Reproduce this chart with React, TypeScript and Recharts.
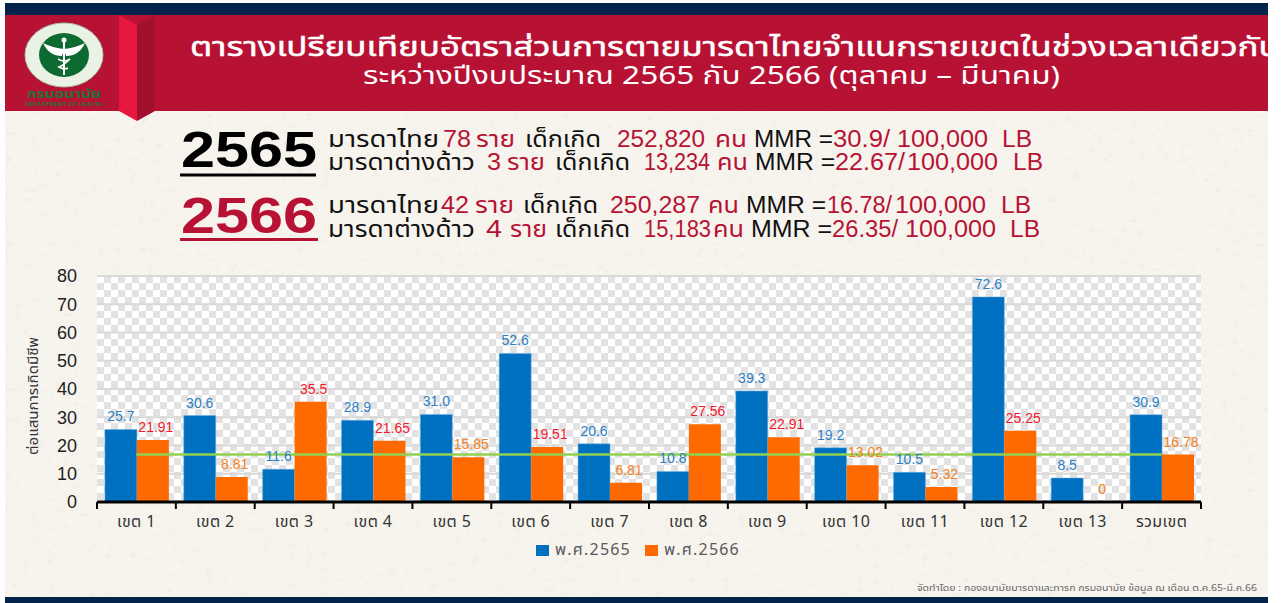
import React from "react";
import { ComposedChart, Bar, Line, XAxis, YAxis, CartesianGrid, LabelList, Legend } from "recharts";

const categories = ["เขต 1","เขต 2","เขต 3","เขต 4","เขต 5","เขต 6","เขต 7","เขต 8","เขต 9","เขต 10","เขต 11","เขต 12","เขต 13","รวมเขต"];
const mmr2565 = [25.7,30.6,11.6,28.9,31.0,52.6,20.6,10.8,39.3,19.2,10.5,72.6,8.5,30.9];
const mmr2566 = [21.91,8.81,35.5,21.65,15.85,19.51,6.81,27.56,22.91,13.02,5.32,25.25,0,16.78];
const avg2566 = [16.78,16.78,16.78,16.78,16.78,16.78,16.78,16.78,16.78,16.78,16.78,16.78,16.78,16.78];
const yTicks = [0,10,20,30,40,50,60,70,80];

const data = categories.map((name, i) => ({ name, a: mmr2565[i], b: mmr2566[i], avg: avg2566[i] }));

const RED = "#b71234";
const NAVY = "#03234a";
const THAI = "'Noto Sans Thai','Noto Sans','Liberation Sans','DejaVu Sans',sans-serif";
const ARIAL = "'Liberation Sans',Arial,'Noto Sans',sans-serif";

type Seg = { t: string; x: number; w: number; c: number };
const lines: { y: number; segs: Seg[] }[] = [
  { y: 147, segs: [
    { t: "มารดาไทย", x: 328, w: 111, c: 0 }, { t: "78", x: 443, w: 28, c: 1 }, { t: "ราย", x: 476, w: 39, c: 1 }, { t: "เด็กเกิด", x: 525, w: 76, c: 0 },
    { t: "252,820", x: 617, w: 88, c: 1 }, { t: "คน", x: 715, w: 32, c: 1 }, { t: "MMR =", x: 754, w: 79, c: 0 }, { t: "30.9/", x: 833, w: 57, c: 1 }, { t: "100,000", x: 897, w: 91, c: 1 }, { t: "LB", x: 1002, w: 30, c: 1 },
  ]},
  { y: 170, segs: [
    { t: "มารดาต่างด้าว", x: 328, w: 147, c: 0 }, { t: "3", x: 487, w: 14, c: 1 }, { t: "ราย", x: 507, w: 38, c: 1 }, { t: "เด็กเกิด", x: 555, w: 75, c: 0 },
    { t: "13,234", x: 644, w: 66, c: 1 }, { t: "คน", x: 717, w: 31, c: 1 }, { t: "MMR =", x: 755, w: 80, c: 0 }, { t: "22.67/", x: 835, w: 70, c: 1 }, { t: "100,000", x: 907, w: 91, c: 1 }, { t: "LB", x: 1013, w: 30, c: 1 },
  ]},
  { y: 213, segs: [
    { t: "มารดาไทย", x: 328, w: 111, c: 0 }, { t: "42", x: 441, w: 28, c: 1 }, { t: "ราย", x: 475, w: 39, c: 1 }, { t: "เด็กเกิด", x: 523, w: 75, c: 0 },
    { t: "250,287", x: 610, w: 90, c: 1 }, { t: "คน", x: 708, w: 31, c: 1 }, { t: "MMR =", x: 746, w: 80, c: 0 }, { t: "16.78/", x: 827, w: 65, c: 1 }, { t: "100,000", x: 895, w: 91, c: 1 }, { t: "LB", x: 1001, w: 30, c: 1 },
  ]},
  { y: 237, segs: [
    { t: "มารดาต่างด้าว", x: 328, w: 147, c: 0 }, { t: "4", x: 486, w: 16, c: 1 }, { t: "ราย", x: 510, w: 37, c: 1 }, { t: "เด็กเกิด", x: 555, w: 75, c: 0 },
    { t: "15,183", x: 644, w: 67, c: 1 }, { t: "คน", x: 713, w: 31, c: 1 }, { t: "MMR =", x: 751, w: 81, c: 0 }, { t: "26.35/", x: 832, w: 66, c: 1 }, { t: "100,000", x: 905, w: 91, c: 1 }, { t: "LB", x: 1010, w: 30, c: 1 },
  ]},
];

const XTick = (p: any) => {
  const half = 39.43;
  const isLast = p.index === categories.length - 1;
  return (
    <g>
      <line x1={p.x - half} x2={p.x - half} y1={p.y - 8} y2={p.y - 1} stroke="#000" strokeWidth={2} />
      {isLast && <line x1={p.x + half} x2={p.x + half} y1={p.y - 8} y2={p.y - 1} stroke="#000" strokeWidth={2} />}
      <text x={p.x} y={p.y + 17} textAnchor="middle" fontSize={16} letterSpacing={0.4} fontFamily={THAI} fill="#333">{p.payload.value}</text>
    </g>
  );
};

const LabelA = (p: any) => (
  <text x={p.x + p.width / 2} y={p.y - 8} textAnchor="middle" fontSize={14} fontFamily={ARIAL} fill="#2b80c5">
    {Number(p.value).toFixed(1)}
  </text>
);
const LabelB = (p: any) => (
  <text x={p.x + p.width / 2 + 3} y={p.y - 8} textAnchor="middle" fontSize={14} fontFamily={ARIAL} fill={p.value > 17 ? "#f5182c" : "#f58220"}>
    {String(p.value)}
  </text>
);

const LegendContent = (p: any) => (
  <div style={{ display: "flex", gap: 0 }}>
    {(p.payload || []).filter((e: any) => e.type !== "none" && e.dataKey !== "avg").map((e: any) => (
      <div key={e.value} style={{ width: 109, display: "flex", alignItems: "center", height: 14 }}>
        <span style={{ width: 13, height: 11, background: e.color, marginRight: 6, flex: "none" }} />
        <span style={{ color: "#595959", fontFamily: THAI, fontSize: 16, letterSpacing: 1.2, whiteSpace: "nowrap" }}>{e.value}</span>
      </div>
    ))}
  </div>
);

const Logo = () => (
  <svg width={114} height={96} style={{ position: "absolute", left: 5, top: 15 }}>
    <ellipse cx={59} cy={40} rx={39} ry={32} fill="#eaf2e6" stroke="#a8c8a8" />
    <ellipse cx={59} cy={40} rx={25} ry={22} fill="#0d6b31" />
    <path d="M59 34 Q48 33 38 28 Q44 41 57 41 Z M59 34 Q70 33 80 28 Q74 41 61 41 Z" fill="#fff" />
    <path d="M59 24 V60" stroke="#fff" strokeWidth={2} />
    <path d="M53 44 Q59 48 65 44 Q59 50 54 52 Q59 55 63 53" stroke="#fff" strokeWidth={1.6} fill="none" />
    <circle cx={59} cy={25} r={2.5} fill="#fff" />
    <text x={59} y={83} textAnchor="middle" fontSize={12} fontWeight={700} fontFamily={THAI} fill="#1f7136" textLength={74} lengthAdjust="spacingAndGlyphs">กรมอนามัย</text>
    <text x={59} y={91} textAnchor="middle" fontSize={6} fontWeight={700} fontFamily={ARIAL} fill="#1f7136" textLength={78} lengthAdjust="spacingAndGlyphs">DEPARTMENT OF HEALTH</text>
  </svg>
);

export default function App() {
  return (
    <div style={{ position: "absolute", left: 0, top: 0, width: 1281, height: 603, background: "#fff", overflow: "hidden" }}>
      <div style={{ position: "absolute", left: 5, top: 3, width: 1263, height: 600, background: "#f7f4ee" }} />
      <svg width={1263} height={600} style={{ position: "absolute", left: 5, top: 3 }}>
        <filter id="paper">
          <feTurbulence type="fractalNoise" baseFrequency="0.12 0.2" numOctaves={3} seed={4} />
          <feColorMatrix values="0 0 0 0 0.55  0 0 0 0 0.52  0 0 0 0 0.46  0 0 0 1.6 -0.95" />
        </filter>
        <rect width={1263} height={600} filter="url(#paper)" opacity={0.3} />
      </svg>
      <div style={{ position: "absolute", left: 5, top: 3, width: 1263, height: 12, background: NAVY }} />
      <div style={{ position: "absolute", left: 5, top: 597, width: 1263, height: 6, background: NAVY }} />
      <div style={{ position: "absolute", left: 5, top: 15, width: 1263, height: 96, background: RED }} />
      <svg width={1281} height={130} style={{ position: "absolute", left: 0, top: 0 }}>
        <polygon points="119,15 137,25 137,121 119,111" fill="#e8173f" />
        <polygon points="137,25 155,15 155,111 137,121" fill="#a3102e" />
      </svg>
      <Logo />
      <svg width={1268} height={111} style={{ position: "absolute", left: 0, top: 0 }}>
        <text x={190} y={56} fontSize={27} fontFamily={THAI} fill="#fff" stroke="#fff" strokeWidth={0.5} textLength={1090} lengthAdjust="spacingAndGlyphs">
          ตารางเปรียบเทียบอัตราส่วนการตายมารดาไทยจำแนกรายเขตในช่วงเวลาเดียวกัน
        </text>
        <text x={363} y={84} fontSize={25} fontFamily={THAI} fill="#fff" textLength={697} lengthAdjust="spacingAndGlyphs">
          ระหว่างปีงบประมาณ 2565 กับ 2566 (ตุลาคม – มีนาคม)
        </text>
      </svg>
      <svg width={1281} height={260} style={{ position: "absolute", left: 0, top: 0 }}>
        <text x={181} y={167} fontSize={50} fontWeight={700} fontFamily={ARIAL} fill="#000" textLength={136} lengthAdjust="spacingAndGlyphs">2565</text>
        <rect x={180} y={173.5} width={136} height={3} fill="#000" />
        <text x={181} y={233} fontSize={50} fontWeight={700} fontFamily={ARIAL} fill={RED} textLength={136} lengthAdjust="spacingAndGlyphs">2566</text>
        <rect x={180} y={238} width={138} height={3} fill={RED} />
        {lines.map((l, i) => (
          <g key={i}>
            {l.segs.map((s, j) => (
              <text key={j} x={s.x} y={l.y} fontSize={23} fontFamily={/[A-Z0-9]/.test(s.t) ? ARIAL : THAI} fill={s.c ? RED : "#111"} textLength={s.w} lengthAdjust="spacingAndGlyphs">{s.t}</text>
            ))}
          </g>
        ))}
      </svg>
      <div style={{
        position: "absolute", left: 97, top: 276, width: 1104, height: 226,
        background: "repeating-conic-gradient(#e2e2e2 0% 25%, #ffffff 0% 50%) 0 0 / 14px 14px",
      }} />
      <div style={{ position: "absolute", left: 0, top: 0 }}>
        <ComposedChart width={1281} height={603} data={data} barGap={0} barCategoryGap="10%"
          margin={{ top: 276, right: 80, bottom: 70, left: 57 }}>
          <CartesianGrid horizontal vertical={false} stroke="#d9d9d9" strokeWidth={2} />
          <XAxis dataKey="name" height={30} tick={<XTick />} tickLine={false} axisLine={{ stroke: "#000", strokeWidth: 3 }} interval={0} />
          <YAxis width={40} domain={[0, 80]} ticks={yTicks} tickLine={false} axisLine={false} tickMargin={14}
            tick={{ fontSize: 18, fontFamily: ARIAL, fill: "#222" }} />
          <Bar dataKey="a" name="พ.ศ.2565" fill="#0070c0" stroke="#6fb2e6" strokeWidth={0.5} isAnimationActive={false}>
            <LabelList dataKey="a" content={<LabelA />} />
          </Bar>
          <Bar dataKey="b" name="พ.ศ.2566" fill="#ff6a00" minPointSize={0.01} isAnimationActive={false}>
            <LabelList dataKey="b" content={<LabelB />} />
          </Bar>
          <Line dataKey="avg" stroke="#92d050" strokeWidth={2.5} dot={false} legendType="none" isAnimationActive={false} />
          <Legend verticalAlign="bottom" height={1} content={<LegendContent />}
            wrapperStyle={{ position: "absolute", left: 536, top: 543, width: 218, bottom: "auto" }} />
        </ComposedChart>
      </div>
      <svg width={1281} height={603} style={{ position: "absolute", left: 0, top: 0, pointerEvents: "none" }}>
        <text transform="translate(38,396) rotate(-90)" textAnchor="middle" fontSize={14} fontFamily={THAI} fill="#333" textLength={118} lengthAdjust="spacingAndGlyphs">ต่อแสนการเกิดมีชีพ</text>
        <text x={917} y={591} fontSize={9} fontFamily={THAI} fill="#666" textLength={340} lengthAdjust="spacingAndGlyphs">จัดทำโดย : กองอนามัยมารดาและทารก กรมอนามัย ข้อมูล ณ เดือน ต.ค.65-มี.ค.66</text>
      </svg>
    </div>
  );
}
